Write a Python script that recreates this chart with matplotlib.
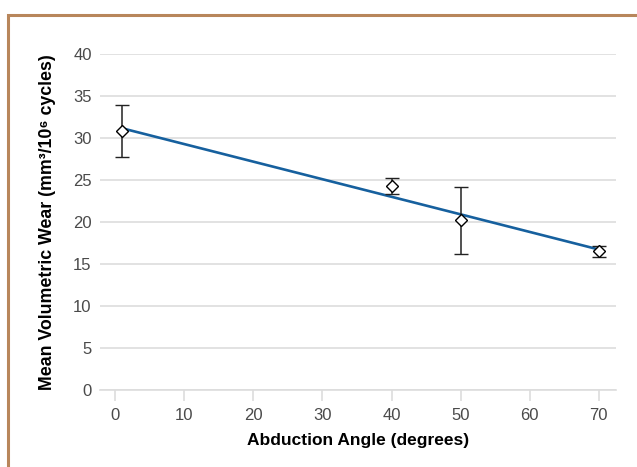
import numpy as np
import matplotlib.pyplot as plt
from matplotlib.patches import Rectangle

# data
angle = [1, 40, 50, 70]
wear = [30.8, 24.3, 20.2, 16.5]
wear_err = [3.1, 0.95, 4.0, 0.65]

x_ticks = [0, 10, 20, 30, 40, 50, 60, 70]
y_ticks = [0, 5, 10, 15, 20, 25, 30, 35, 40]

plt.rcParams['font.family'] = ['Liberation Sans', 'DejaVu Sans']

fig = plt.figure(figsize=(6.37, 4.67), dpi=100)
ax = fig.add_axes([100 / 637, 1 - 390 / 467, 516 / 637, 336 / 467])

# linear fit through the means
coef = np.polyfit(angle, wear, 1)
fit_x = np.array([min(angle), max(angle)])
ax.plot(fit_x, np.polyval(coef, fit_x), color='#16609e', lw=1.9, zorder=3)

ax.errorbar(angle, wear, yerr=wear_err, fmt='D', ms=6.5, mfc='white', mec='black',
            mew=1.0, ecolor='#222222', elinewidth=1.1, capsize=5, capthick=1.1, zorder=4)

ax.set_xlim(-2.2, 72.5)
ax.set_ylim(0, 40)
ax.set_xticks(x_ticks)
ax.set_yticks(y_ticks)
ax.grid(axis='y', color='#dddddd', lw=1.2)
ax.set_axisbelow(True)
for s in ['top', 'right', 'left']:
    ax.spines[s].set_visible(False)
ax.spines['bottom'].set_color('#dddddd')
ax.spines['bottom'].set_linewidth(1.2)
ax.tick_params(axis='y', length=0, pad=6, labelsize=12, labelcolor='#4a4a4a')
ax.tick_params(axis='x', length=8, width=1.2, color='#dddddd', pad=5,
               labelsize=12, labelcolor='#4a4a4a')

ax.set_xlabel('Abduction Angle (degrees)', fontsize=12.5, fontweight='bold', labelpad=7)
ax.set_ylabel('Mean Volumetric Wear (mm³/10⁶ cycles)', fontsize=12.8, fontweight='bold',
              labelpad=12)

# brown frame around the panel
fig.patches.append(Rectangle((8 / 637, -0.2), 1.2, 1.2 - 15 / 467,
                             transform=fig.transFigure, fill=False,
                             edgecolor='#b8865b', lw=2.2))

fig.savefig('out.png', dpi=100)
